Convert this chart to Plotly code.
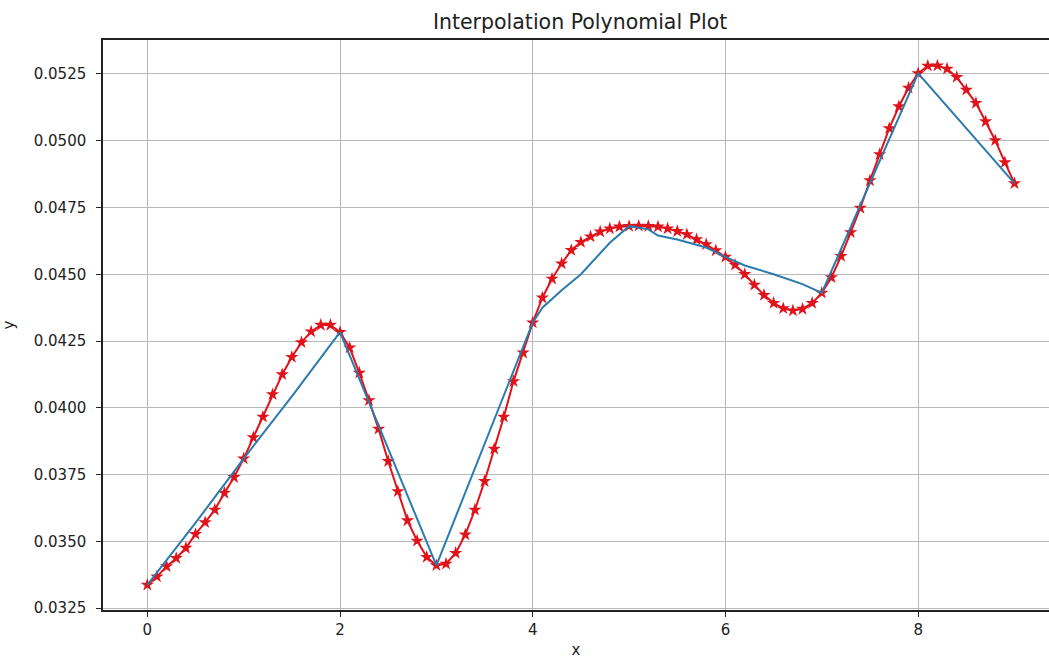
import plotly.graph_objects as go

# polynomial evaluated on a fine grid (red stars)
poly_x = [
    0.0, 0.1, 0.2, 0.3, 0.4, 0.5, 0.6, 0.7, 0.8, 0.9,
    1.0, 1.1, 1.2, 1.3, 1.4, 1.5, 1.6, 1.7, 1.8, 1.9,
    2.0, 2.1, 2.2, 2.3, 2.4, 2.5, 2.6, 2.7, 2.8, 2.9,
    3.0, 3.1, 3.2, 3.3, 3.4, 3.5, 3.6, 3.7, 3.8, 3.9,
    4.0, 4.1, 4.2, 4.3, 4.4, 4.5, 4.6, 4.7, 4.8, 4.9,
    5.0, 5.1, 5.2, 5.3, 5.4, 5.5, 5.6, 5.7, 5.8, 5.9,
    6.0, 6.1, 6.2, 6.3, 6.4, 6.5, 6.6, 6.7, 6.8, 6.9,
    7.0, 7.1, 7.2, 7.3, 7.4, 7.5, 7.6, 7.7, 7.8, 7.9,
    8.0, 8.1, 8.2, 8.3, 8.4, 8.5, 8.6, 8.7, 8.8, 8.9,
    9.0,
]
poly_y = [
    0.03337, 0.03368, 0.03406, 0.03437, 0.03475, 0.03527, 0.03571, 0.03618, 0.03681, 0.03740,
    0.03810, 0.03889, 0.03966, 0.04050, 0.04125, 0.04190, 0.04245, 0.04285, 0.04310, 0.04310,
    0.04283, 0.04225, 0.04131, 0.04028, 0.03921, 0.03800, 0.03687, 0.03578, 0.03502, 0.03441,
    0.03410, 0.03416, 0.03456, 0.03525, 0.03618, 0.03725, 0.03846, 0.03966, 0.04099, 0.04206,
    0.04319, 0.04412, 0.04483, 0.04540, 0.04590, 0.04620, 0.04641, 0.04659, 0.04671, 0.04678,
    0.04680, 0.04681, 0.04680, 0.04678, 0.04671, 0.04661, 0.04649, 0.04630, 0.04612, 0.04589,
    0.04565, 0.04535, 0.04500, 0.04460, 0.04422, 0.04392, 0.04372, 0.04364, 0.04370, 0.04392,
    0.04430, 0.04488, 0.04568, 0.04657, 0.04748, 0.04851, 0.04949, 0.05046, 0.05128, 0.05198,
    0.05252, 0.05280, 0.05281, 0.05269, 0.05238, 0.05190, 0.05141, 0.05072, 0.05001, 0.04919,
    0.04840,
]

# measured data (blue line)
data_x = [0, 0.5, 1, 1.5, 2, 3, 4, 4.1, 4.3, 4.5, 4.8, 5, 5.2, 5.3, 5.5, 5.8, 6,
          6.2, 6.5, 6.8, 7, 8, 9]
data_y = [0.03337, 0.03569, 0.03810, 0.04043, 0.04283, 0.03410, 0.04319, 0.04375,
          0.04440, 0.04500, 0.04618, 0.04680, 0.04668, 0.04645, 0.04630, 0.04600,
          0.04565, 0.04533, 0.04500, 0.04463, 0.04430, 0.05252, 0.04840]

y_ticks = [0.0325, 0.0350, 0.0375, 0.0400, 0.0425, 0.0450, 0.0475, 0.0500, 0.0525]
x_ticks = [0, 2, 4, 6, 8]

fig = go.Figure()
fig.add_trace(go.Scatter(x=poly_x, y=poly_y, mode="lines+markers",
                         line=dict(color="#e0121a", width=2),
                         marker=dict(symbol="star", size=10, color="#e0121a")))
fig.add_trace(go.Scatter(x=data_x, y=data_y, mode="lines",
                         line=dict(color="#2a7cae", width=2)))

axis_common = dict(showgrid=True, gridcolor="#b8b8b8", gridwidth=1,
                   showline=True, linecolor="#222", linewidth=1.5,
                   ticks="outside", ticklen=5, tickcolor="#222",
                   zeroline=False, tickfont=dict(size=15, color="#222"))

fig.update_layout(
    width=1049, height=659,
    margin=dict(l=103, r=0, t=40, b=49, autoexpand=False),
    paper_bgcolor="white", plot_bgcolor="white",
    showlegend=False,
    font=dict(family="DejaVu Sans", color="#222"),
    title=dict(text="Interpolation Polynomial Plot", x=0.553, xanchor="center",
               y=0.967, yanchor="middle", font=dict(size=20.5, color="#222")),
    xaxis=dict(range=[-0.46, 9.358], tickvals=x_ticks, mirror=True,
               title=dict(text="x", standoff=8, font=dict(size=15)), **axis_common),
    yaxis=dict(range=[0.03243, 0.05377], tickvals=y_ticks, tickformat=".4f",
               ticklabelstandoff=7,
               title=dict(text="y", standoff=16, font=dict(size=15)), **axis_common),
)

# drop the default page margin so the figure sits at the window's top-left
fig.write_html("out.html", config={"displayModeBar": False},
               post_script="document.body.style.margin='0';")
